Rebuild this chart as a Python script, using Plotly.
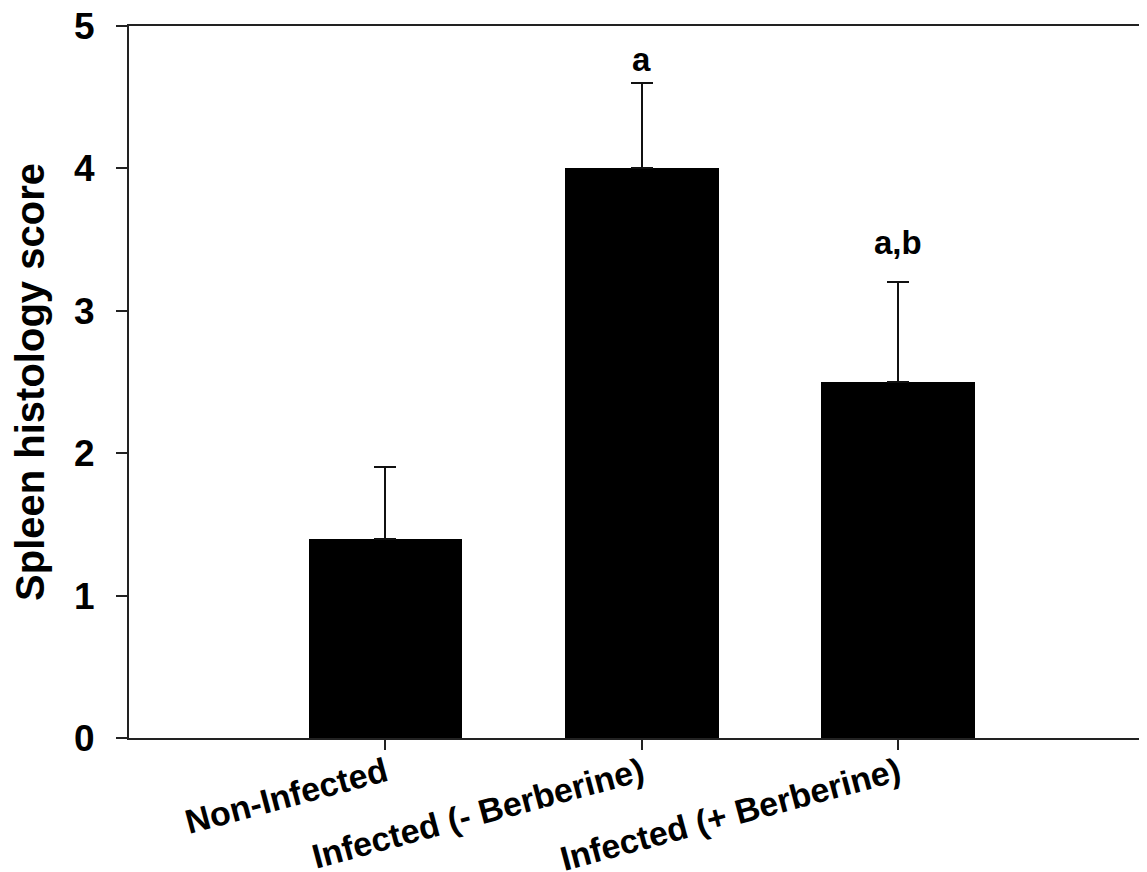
import plotly.graph_objects as go

categories = ["Non-Infected", "Infected (- Berberine)", "Infected (+ Berberine)"]
scores = [1.4, 4.0, 2.5]
errors = [0.5, 0.6, 0.7]
sig_labels = ["", "a", "a,b"]
sig_shift = [0, 3, 19]

xpos = list(range(len(categories)))
FONT = "Liberation Sans, Arial, sans-serif"

fig = go.Figure()
fig.add_trace(go.Bar(
    x=xpos, y=scores, width=0.6,
    marker=dict(color="black", line=dict(width=0)),
    error_y=dict(type="data", symmetric=False, array=errors,
                 arrayminus=[0] * len(errors), color="#111", thickness=2, width=11),
))

for xi, s, e, lab, sh in zip(xpos, scores, errors, sig_labels, sig_shift):
    if lab:
        fig.add_annotation(x=xi, y=s + e, text=lab, showarrow=False,
                           yanchor="bottom", yshift=sh,
                           font=dict(family=FONT, size=33, color="black", weight="bold"))

fig.update_layout(
    width=1139, height=864,
    margin=dict(l=121, r=0, t=18, b=134),
    paper_bgcolor="white", plot_bgcolor="white",
    showlegend=False,
    bargap=0,
    xaxis=dict(range=[-1, 2.97], tickvals=xpos, ticktext=categories,
               tickangle=-15, showgrid=False, zeroline=False, automargin=False,
               showline=True, linecolor="#222", linewidth=2, mirror=True,
               ticks="outside", ticklen=10, tickwidth=2, tickcolor="#222",
               ticklabelstandoff=-10, ticklabeloverflow="allow",
               tickfont=dict(family=FONT, size=34, color="black", weight="bold")),
    yaxis=dict(range=[0, 5], tickvals=[0, 1, 2, 3, 4, 5], showgrid=False, zeroline=False,
               automargin=False, ticklabeloverflow="allow",
               showline=True, linecolor="#222", linewidth=2, mirror=False,
               ticks="outside", ticklen=11, tickwidth=2, tickcolor="#222",
               ticklabelstandoff=14,
               tickfont=dict(family=FONT, size=37, color="black", weight="bold"),
               title=dict(text="Spleen histology score", standoff=24,
                          font=dict(family=FONT, size=40, color="black", weight="bold"))),
)

fig.write_html("out.html")
